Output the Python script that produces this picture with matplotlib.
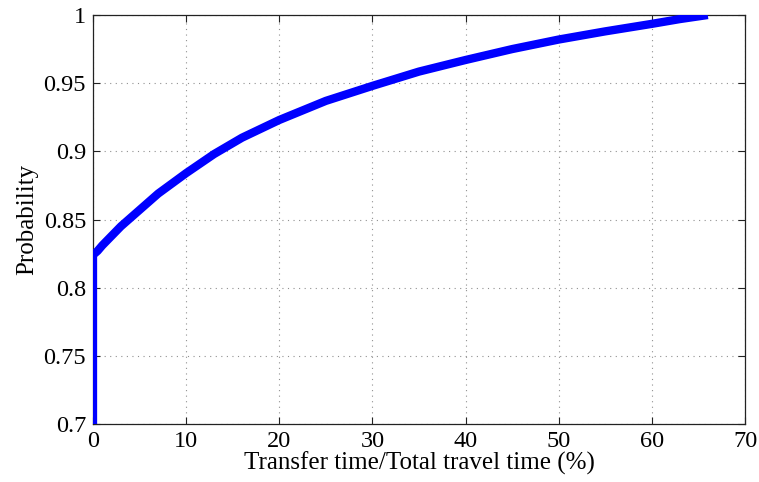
import matplotlib
matplotlib.use("Agg")
import matplotlib.pyplot as plt

# CDF of transfer-time share of total travel time
ratio_pct = [0, 0, 0.5, 1, 2, 3, 4, 5, 7, 10, 13, 16, 20, 25, 30, 35, 40, 45, 50, 55, 60, 63, 66]
probability = [0.70, 0.824, 0.827, 0.831, 0.838, 0.845, 0.851, 0.857, 0.869, 0.884, 0.898, 0.910,
               0.923, 0.937, 0.948, 0.9585, 0.967, 0.975, 0.982, 0.988, 0.9935, 0.997, 1.0]

x_ticks = [0, 10, 20, 30, 40, 50, 60, 70]
y_ticks = [0.7, 0.75, 0.8, 0.85, 0.9, 0.95, 1.0]
y_labels = ["0.7", "0.75", "0.8", "0.85", "0.9", "0.95", "1"]

plt.rcParams["font.family"] = ["Liberation Serif", "DejaVu Serif"]

fig = plt.figure(figsize=(7.59, 4.82), dpi=100)
ax = fig.add_axes([0.1225, 0.1203, 0.8591, 0.8486])

ax.plot(ratio_pct, probability, color="#0000ff", linewidth=6, solid_capstyle="butt",
        solid_joinstyle="round", zorder=3)

ax.set_xlim(0, 70)
ax.set_ylim(0.7, 1.0)
ax.set_xticks(x_ticks)
ax.set_yticks(y_ticks)
ax.set_yticklabels(y_labels)

ax.grid(True, linestyle=(0, (1, 4)), color="#909090", linewidth=0.8)
ax.tick_params(direction="in", length=5, width=0.8, top=True, right=True,
               labelsize=17.5, pad=5, color="#222222")
for s in ax.spines.values():
    s.set_linewidth(0.9)
    s.set_color("#222222")

ax.set_xlabel("Transfer time/Total travel time (%)", fontsize=18, labelpad=0)
ax.set_ylabel("Probability", fontsize=18, labelpad=4)

fig.savefig("out.png", dpi=100)
